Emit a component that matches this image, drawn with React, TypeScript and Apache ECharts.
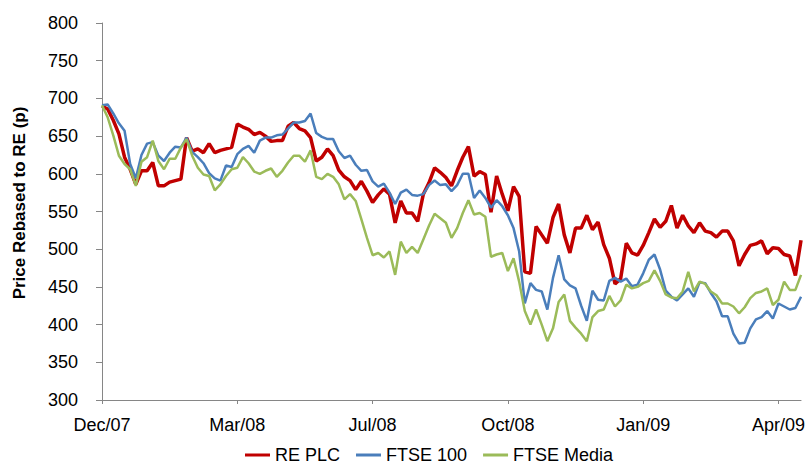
import React, { useEffect, useRef } from "react";
import * as echarts from "echarts";

const xTickIndex = [0, 24, 48, 72, 96, 120];
const xTickLabels = ["Dec/07", "Mar/08", "Jul/08", "Oct/08", "Jan/09", "Apr/09"];
const seriesNames = ["RE PLC", "FTSE 100", "FTSE Media"];

const rePlc = [
  690, 686, 671, 653, 622, 606, 586, 604, 604, 615, 584, 584, 589, 591, 593, 648, 630, 633, 628, 640, 628, 631, 633, 635, 666, 662,
  659, 652, 655, 650, 643, 644, 644, 663, 668, 660, 657, 648, 617, 622, 633, 624, 605, 596, 591, 579, 590, 577, 562, 572, 580,
  573, 535, 564, 548, 548, 537, 573, 588, 608, 602, 595, 584, 604, 622, 636, 597, 603, 599, 549, 597, 573, 551, 583, 570,
  470, 468, 530, 519, 508, 542, 560, 519, 495, 528, 528, 545, 526, 536, 506, 488, 454, 461, 508, 495, 492, 505, 522, 540, 529, 537,
  558, 528, 545, 531, 522, 535, 524, 522, 516, 524, 524, 511, 478, 493, 505, 507, 511, 494, 502, 501, 493, 491, 465, 512,
];

const ftse100 = [
  691, 692, 680, 667, 657, 613, 594, 625, 640, 642, 624, 617, 628, 636, 635, 648, 629, 622, 614, 601, 594, 591, 611, 609, 626, 633,
  637, 628, 644, 648, 648, 651, 652, 660, 668, 668, 670, 680, 654, 649, 646, 646, 630, 621, 624, 612, 604, 605, 590, 583, 587,
  575, 560, 575, 579, 572, 571, 573, 585, 591, 585, 586, 577, 585, 600, 600, 568, 578, 568, 555, 565, 557, 545, 528, 497,
  428, 455, 446, 444, 420, 462, 492, 460, 452, 448, 425, 405, 445, 433, 432, 458, 462, 457, 461, 451, 453, 468, 486, 493, 473, 445,
  437, 432, 440, 448, 437, 456, 455, 442, 431, 411, 411, 388, 375, 376, 395, 407, 410, 418, 408, 428, 424, 420, 422, 437,
];

const ftseMedia = [
  691, 675, 651, 624, 613, 606, 584, 616, 622, 644, 617, 606, 620, 620, 635, 646, 624, 608, 599, 597, 578, 586, 597, 606, 608, 622,
  614, 603, 600, 604, 607, 596, 604, 615, 624, 624, 616, 631, 596, 593, 600, 596, 586, 566, 573, 564, 540, 515, 492, 495, 489,
  497, 466, 510, 495, 503, 495, 513, 531, 547, 541, 535, 515, 528, 548, 565, 546, 548, 543, 490, 493, 495, 471, 488, 457,
  418, 400, 420, 400, 378, 395, 430, 440, 405, 396, 388, 378, 410, 418, 420, 438, 424, 432, 453, 448, 450, 455, 458, 472, 458, 440,
  436, 435, 444, 470, 444, 457, 454, 444, 439, 428, 428, 424, 415, 423, 435, 442, 444, 448, 426, 433, 457, 446, 446, 466,
];

const FONT = "'Liberation Sans', Arial, sans-serif";

export default function App() {
  const ref = useRef<HTMLDivElement>(null);
  useEffect(() => {
    if (!ref.current) return;
    const chart = echarts.init(ref.current, undefined, { renderer: "svg" });
    const toPairs = (arr: number[]) => arr.map((v, i) => [i, v]);
    chart.setOption({
      animation: false,
      backgroundColor: "#ffffff",
      textStyle: { fontFamily: FONT },
      grid: { left: 102, right: 5, top: 23, bottom: 64 },
      xAxis: {
        type: "value",
        min: 0,
        max: rePlc.length - 1,
        axisLine: { show: true, lineStyle: { color: "#868686", width: 1 } },
        axisTick: {
          show: true,
          customValues: xTickIndex,
          length: 4,
          lineStyle: { color: "#868686" },
        },
        axisLabel: {
          customValues: xTickIndex,
          formatter: (v: number) => xTickLabels[Math.round(v / 24)] ?? "",
          fontSize: 18,
          color: "#000",
          fontFamily: FONT,
          margin: 16,
        },
        splitLine: { show: false },
      },
      yAxis: {
        type: "value",
        min: 300,
        max: 800,
        interval: 50,
        axisLine: { show: true, lineStyle: { color: "#868686", width: 1 } },
        axisTick: { show: true, length: 6, lineStyle: { color: "#868686" } },
        axisLabel: { fontSize: 18, color: "#000", fontFamily: FONT, margin: 24 },
        splitLine: { show: false },
      },
      legend: {
        left: 245,
        top: 446,
        padding: 0,
        icon: "rect",
        itemWidth: 25,
        itemHeight: 3,
        itemGap: 16,
        data: seriesNames,
        textStyle: { fontSize: 18, color: "#000", fontFamily: FONT },
      },
      graphic: [
        {
          type: "text",
          x: 19,
          y: 203,
          rotation: Math.PI / 2,
          style: {
            text: "Price Rebased to RE (p)",
            font: `bold 17px ${FONT}`,
            fill: "#000",
            align: "center",
            verticalAlign: "middle",
          },
        },
      ],
      series: [
        {
          name: seriesNames[0],
          type: "line",
          data: toPairs(rePlc),
          showSymbol: false,
          color: "#C00000",
          lineStyle: { width: 3.5, color: "#C00000" },
        },
        {
          name: seriesNames[1],
          type: "line",
          data: toPairs(ftse100),
          showSymbol: false,
          color: "#4A7EBB",
          lineStyle: { width: 2.5, color: "#4A7EBB" },
        },
        {
          name: seriesNames[2],
          type: "line",
          data: toPairs(ftseMedia),
          showSymbol: false,
          color: "#9BBB59",
          lineStyle: { width: 2.5, color: "#9BBB59" },
        },
      ],
    });
    return () => chart.dispose();
  }, []);
  return (
    <div
      ref={ref}
      style={{ position: "fixed", left: 0, top: 0, width: 808, height: 464, background: "#fff" }}
    />
  );
}
